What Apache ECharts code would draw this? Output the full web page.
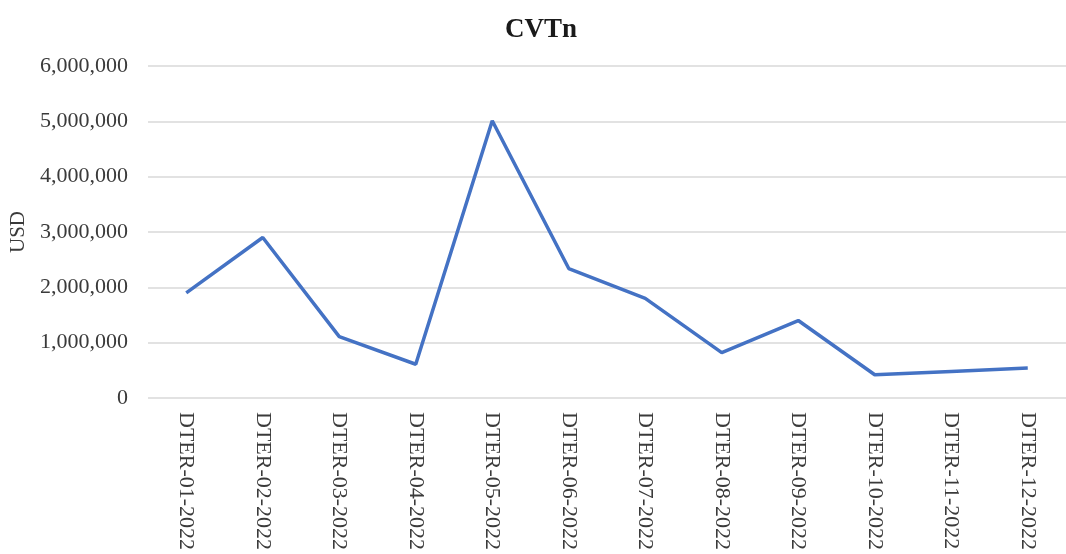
<!DOCTYPE html>
<html>
<head>
<meta charset="utf-8">
<script src="https://cdn.jsdelivr.net/npm/echarts@6/dist/echarts.min.js"></script>
<style>
html,body{margin:0;padding:0;background:#fff;}
#c{width:1066px;height:554px;}
</style>
</head>
<body>
<div id="c"></div>
<script>
const categories = ["DTER-01-2022","DTER-02-2022","DTER-03-2022","DTER-04-2022","DTER-05-2022","DTER-06-2022","DTER-07-2022","DTER-08-2022","DTER-09-2022","DTER-10-2022","DTER-11-2022","DTER-12-2022"];
const usdValues = [1900000, 2900000, 1110000, 610000, 5010000, 2340000, 1800000, 820000, 1400000, 420000, 480000, 540000];
const yTicks = [0, 1000000, 2000000, 3000000, 4000000, 5000000, 6000000];
const titleText = "CVTn";
const yName = "USD";

const chart = echarts.init(document.getElementById('c'));
const serif = "'Liberation Serif', 'DejaVu Serif', serif";
chart.setOption({
  animation: false,
  backgroundColor: '#ffffff',
  title: {
    text: titleText,
    left: 536, top: 12,
    textAlign: 'center',
    textStyle: {fontFamily: serif, fontWeight: 'bold', fontSize: 27, color: '#1a1a1a'}
  },
  grid: {left: 148, right: -9, top: 66, bottom: 156, containLabel: false},
  xAxis: {
    type: 'category',
    data: categories,
    boundaryGap: true,
    axisLine: {show: false},
    axisTick: {show: false},
    axisLabel: {rotate: -90, margin: 14, fontFamily: serif, fontSize: 22, color: '#3a3a3a'}
  },
  yAxis: {
    type: 'value',
    min: yTicks[0], max: yTicks[yTicks.length-1], interval: 1000000,
    name: yName,
    nameLocation: 'middle',
    nameGap: 116,
    nameRotate: 90,
    nameTextStyle: {fontFamily: serif, fontSize: 21, color: '#3a3a3a'},
    axisLine: {show: false},
    axisTick: {show: false},
    splitLine: {lineStyle: {color: '#d9d9d9', width: 1.5}},
    axisLabel: {margin: 20, fontFamily: serif, fontSize: 22, color: '#3a3a3a',
      formatter: v => v.toLocaleString('en-US')}
  },
  series: [{
    type: 'line',
    data: usdValues,
    showSymbol: false,
    symbol: 'none',
    lineStyle: {color: '#4472C4', width: 3.5},
    itemStyle: {color: '#4472C4'}
  }]
});
</script>
</body>
</html>
